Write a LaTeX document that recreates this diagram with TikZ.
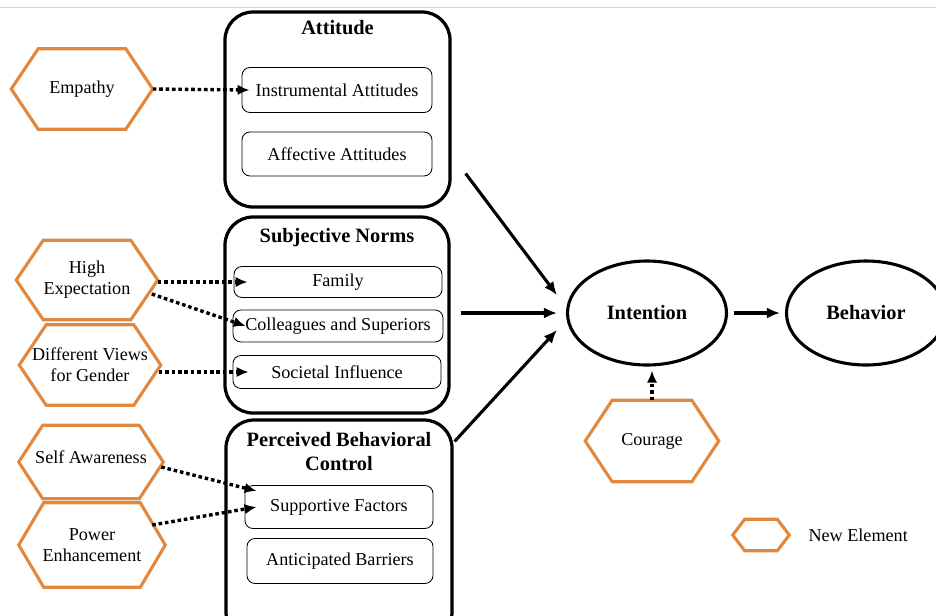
\documentclass[tikz,border=0pt]{standalone}
\usepackage{fontspec}
\setmainfont{Liberation Serif}
\usetikzlibrary{calc,positioning,shapes.geometric,arrows.meta}
\definecolor{hexorange}{RGB}{226,135,62}
\tikzset{
  grp/.style={draw,line width=2.3pt,rounded corners=7mm,minimum width=56.25mm},
  ttl/.style={font=\fontsize{14.5}{17}\selectfont\bfseries,align=center},
  item/.style={draw,line width=0.6pt,rounded corners=2mm,font=\fontsize{12.9}{15}\selectfont,inner sep=0pt},
  newel/.style={inner sep=0pt,align=center,font=\fontsize{12.9}{15}\selectfont},
  hexline/.style={draw=hexorange,line width=2.2pt,line join=miter},
  ell/.style={ellipse,draw,line width=2.2pt,minimum width=39.75mm,minimum height=26mm,font=\fontsize{14.5}{17}\selectfont\bfseries,inner sep=0pt},
  link/.style={-{Latex[length=3.3mm,width=2.8mm]},line width=2.2pt},
  newlink/.style={-{Latex[length=3mm,width=2.6mm]},line width=2.4pt,dash pattern=on 0.9mm off 0.7mm}
}
\newcommand{\hexa}[2]{\draw[hexline] (#1.west) -- ($(#1.north west)+(#2,0)$) -- ($(#1.north east)+(-#2,0)$) -- (#1.east) -- ($(#1.south east)+(-#2,0)$) -- ($(#1.south west)+(#2,0)$) -- cycle;}
\begin{document}
\begin{tikzpicture}[x=0.25mm,y=-0.25mm]
\clip (0,0) rectangle (936,615);
\fill[white] (0,0) rectangle (936,615);
\draw[gray!35,line width=0.6pt] (0,7) -- (936,7);
% the three groups
\node[grp,minimum height=48.75mm] (att) at (337.5,109.5) {};
\node[grp,minimum width=56mm,minimum height=49mm] (sn) at (337,315) {};
\node[grp,minimum width=56.5mm,minimum height=55mm] (pbc) at (339,530) {};
\node[ttl] (attT) at ($(att.north)+(0,17)$) {Attitude};
\node[ttl] (snT) at ($(sn.north)+(0,22)$) {Subjective Norms};
\node[ttl] (pbcT) at ($(pbc.north)+(0,33)$) {Perceived Behavioral\\Control};
% items
\node[item,minimum width=47.5mm,minimum height=11.25mm] (instr) at (337,90) {Instrumental Attitudes};
\node[item,minimum width=47.5mm,minimum height=11mm] (affe) at (337,154) {Affective Attitudes};
\node[item,minimum width=52mm,minimum height=7.75mm] (fam) at (338,282) {Family};
\node[item,minimum width=52.5mm,minimum height=8mm] (coll) at (338,326) {Colleagues and Superiors};
\node[item,minimum width=52mm,minimum height=8.25mm] (soc) at (337,372) {Societal Influence};
\node[item,minimum width=47mm,minimum height=10.75mm] (supp) at (339,507) {Supportive Factors};
\node[item,minimum width=46.5mm,minimum height=11.25mm] (anti) at (340,561) {Anticipated Barriers};
% new elements
\node[newel,minimum width=35.25mm,minimum height=20mm] (emp) at (82,89) {Empathy};
\node[newel,minimum width=35.25mm,minimum height=19.75mm] (hexp) at (87,280) {High\\Expectation};
\node[newel,minimum width=35.25mm,minimum height=20mm] (dv) at (90,365) {Different Views\\for Gender};
\node[newel,minimum width=36mm,minimum height=18.25mm,text depth=2.2mm] (self) at (91,462) {Self Awareness};
\node[newel,minimum width=36.5mm,minimum height=21mm] (pow) at (92,545) {Power\\Enhancement};
\node[newel,minimum width=33.25mm,minimum height=20.25mm] (cour) at (652,441) {Courage};
\node[newel,minimum width=14mm,minimum height=7.75mm] (leg) at (761,535) {};
\node[newel,right=4.75mm of leg] (legT) {New Element};
\hexa{emp}{27} \hexa{hexp}{27} \hexa{dv}{27} \hexa{self}{24} \hexa{pow}{25} \hexa{cour}{27} \hexa{leg}{12}
% intention and behavior
\node[ell] (int) at (647,313) {Intention};
\node[ell] (beh) at (866,313) {Behavior};
\draw[link] ($(att.east)+(14,64)$) -- ($(int.west)+(-9,-18)$);
\draw[link] ($(sn.east)+(10,-2)$) -- ($(int.west)+(-9,0)$);
\draw[link] ($(pbc.north east)+(1,23)$) -- ($(int.west)+(-9,17)$);
\draw[link] ($(int.east)+(6,0)$) -- ($(beh.west)+(-5,0)$);
\draw[newlink] (cour.north) -- ($(int.south)+(5,4)$);
% dotted links
\draw[newlink] (emp.east) -- ($(instr.west)+(8,0)$);
\draw[newlink] ($(hexp.east)+(0,2)$) -- ($(fam.west)+(14,0)$);
\draw[newlink] ($(hexp.east)+(-6,14)$) -- ($(coll.west)+(13,0)$);
\draw[newlink] ($(dv.east)+(-2,7)$) -- ($(soc.west)+(16,0)$);
\draw[newlink] ($(self.east)+(-2,5)$) -- ($(supp.west)+(12,-16)$);
\draw[newlink] ($(pow.east)+(-13,-20)$) -- ($(supp.west)+(12,0)$);
\end{tikzpicture}
\end{document}
